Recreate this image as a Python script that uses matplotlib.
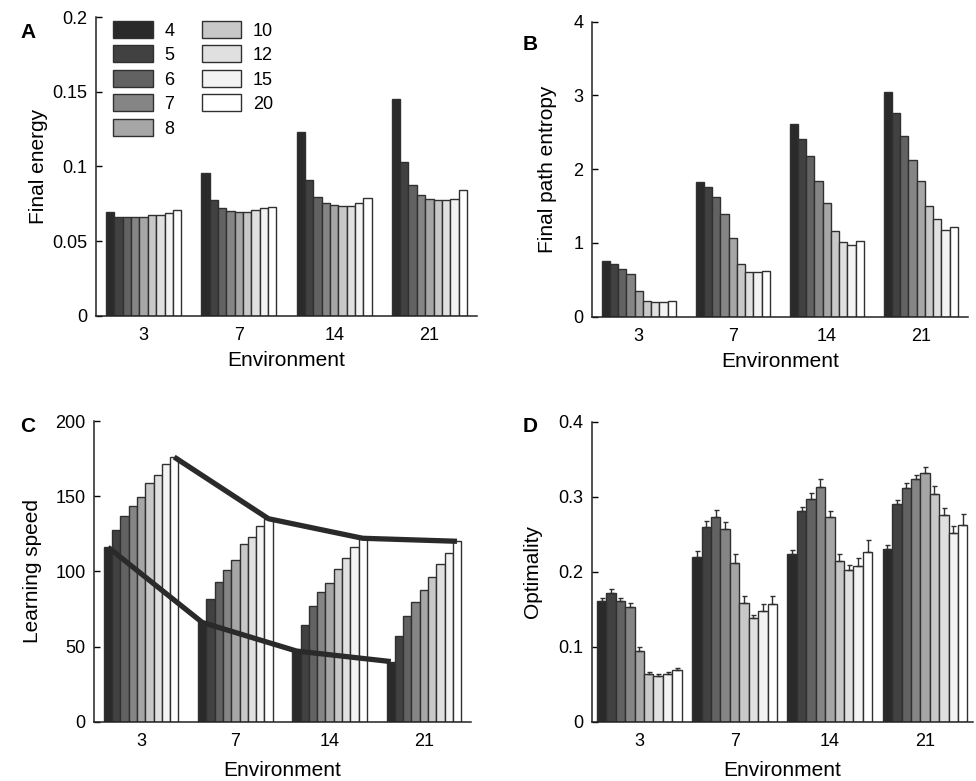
import numpy as np
import matplotlib
matplotlib.use("Agg")
import matplotlib.pyplot as plt

plt.rcParams['font.family'] = ['Liberation Sans', 'DejaVu Sans']
plt.rcParams['font.size'] = 13

environments = ['3', '7', '14', '21']
sizes = ['4', '5', '6', '7', '8', '10', '12', '15', '20']
greys = ['#2a2a2a', '#414141', '#626262', '#858585', '#a6a6a6',
         '#c8c8c8', '#e0e0e0', '#f3f3f3', '#ffffff']

# rows = environment, columns = size
final_energy = [
    [0.0695, 0.0662, 0.0662, 0.0662, 0.0662, 0.0673, 0.0678, 0.0691, 0.0707],
    [0.0956, 0.0773, 0.0722, 0.0704, 0.0698, 0.0698, 0.0709, 0.0720, 0.0731],
    [0.1233, 0.0909, 0.0796, 0.0756, 0.0744, 0.0738, 0.0738, 0.0756, 0.0789],
    [0.1453, 0.1029, 0.0873, 0.0809, 0.0784, 0.0773, 0.0773, 0.0784, 0.0842],
]
path_entropy = [
    [0.755, 0.710, 0.642, 0.579, 0.348, 0.217, 0.203, 0.203, 0.217],
    [1.821, 1.754, 1.623, 1.388, 1.071, 0.719, 0.606, 0.610, 0.624],
    [2.608, 2.409, 2.174, 1.844, 1.546, 1.157, 1.008, 0.972, 1.030],
    [3.051, 2.757, 2.450, 2.124, 1.844, 1.500, 1.324, 1.180, 1.211],
]
learning_speed = [
    [116, 127.5, 136.8, 143.7, 149.2, 159.0, 163.9, 171.4, 176],
    [66, 81.6, 92.7, 100.9, 107.3, 118.0, 123.1, 130.2, 135],
    [47, 64.1, 77.2, 86.0, 92.0, 101.6, 108.6, 116.2, 122],
    [40, 57.0, 70.5, 79.4, 87.6, 96.5, 104.7, 112.0, 120],
]
optimality = [
    [0.161, 0.172, 0.161, 0.153, 0.0947, 0.0631, 0.0609, 0.064, 0.0684],
    [0.219, 0.260, 0.273, 0.257, 0.2116, 0.1578, 0.1378, 0.147, 0.1564],
    [0.2236, 0.281, 0.297, 0.3124, 0.273, 0.2147, 0.2022, 0.208, 0.2267],
    [0.2302, 0.290, 0.312, 0.323, 0.332, 0.304, 0.276, 0.251, 0.2623],
]
optimality_err = [
    [0.0044, 0.0044, 0.0040, 0.0049, 0.0053, 0.0027, 0.0022, 0.0022, 0.0036],
    [0.0090, 0.0080, 0.0098, 0.0093, 0.0120, 0.0093, 0.0044, 0.0100, 0.0116],
    [0.0053, 0.0058, 0.0080, 0.0107, 0.0080, 0.0090, 0.0070, 0.0107, 0.0160],
    [0.0050, 0.0060, 0.0058, 0.0058, 0.0080, 0.0098, 0.0093, 0.0098, 0.0150],
]

fig = plt.figure(figsize=(9.76, 7.81), dpi=100)
edge = '#303030'


def bars(ax, data, group_w, err=None, xpad=5):
    data = np.array(data)
    n = data.shape[1]
    w = group_w / n
    x = np.arange(1, data.shape[0] + 1)
    xs = []
    for j in range(n):
        xj = x - group_w / 2 + w * (j + 0.5)
        xs.append(xj)
        ax.bar(xj, data[:, j], width=w, color=greys[j], edgecolor=edge,
               linewidth=1.0, label=sizes[j], zorder=2)
        if err is not None:
            e = np.array(err)[:, j]
            ax.errorbar(xj, data[:, j], yerr=[np.zeros_like(e), e], fmt='none',
                        ecolor=edge, elinewidth=1.0, capsize=1.8, capthick=1.0,
                        zorder=3)
    ax.set_xlim(0.5, 4.5)
    ax.set_xticks(x)
    ax.set_xticklabels(environments)
    ax.set_xlabel('Environment', fontsize=15, labelpad=xpad)
    for s in ['top', 'right']:
        ax.spines[s].set_visible(False)
    for s in ['left', 'bottom']:
        ax.spines[s].set_linewidth(1.1)
        ax.spines[s].set_color('#222222')
    ax.tick_params(axis='y', direction='in', length=4, width=1, pad=6)
    ax.tick_params(axis='x', length=0, pad=8)
    return np.array(xs)


# A
axA = fig.add_axes([96 / 976, 1 - 316 / 781, 381 / 976, 299 / 781])
bars(axA, final_energy, 0.79, xpad=5)
axA.set_ylim(0, 0.2)
axA.set_yticks([0, 0.05, 0.1, 0.15, 0.2])
axA.set_yticklabels(['0', '0.05', '0.1', '0.15', '0.2'])
axA.set_ylabel('Final energy', fontsize=15, labelpad=3)
axA.legend(ncol=2, loc='upper left', bbox_to_anchor=(0.0446, 0.9866),
           frameon=False, borderpad=0, borderaxespad=0,
           handlelength=2.2, handleheight=1.05, labelspacing=0.33,
           columnspacing=1.5, handletextpad=0.65, fontsize=13)

# B
axB = fig.add_axes([591.7 / 976, 1 - 316.7 / 781, 376 / 976, 295 / 781])
bars(axB, path_entropy, 0.79, xpad=5)
axB.set_ylim(0, 4)
axB.set_yticks([0, 1, 2, 3, 4])
axB.set_ylabel('Final path entropy', fontsize=15, labelpad=12)

# C
axC = fig.add_axes([94 / 976, 1 - 721.7 / 781, 377 / 976, 300.7 / 781])
xs = bars(axC, learning_speed, 0.79, xpad=8)
ls = np.array(learning_speed)
axC.plot(xs[0], ls[:, 0], color='#2a2a2a', lw=3.8, zorder=4,
         solid_capstyle='butt')
axC.plot(xs[-1], ls[:, -1], color='#2a2a2a', lw=3.8, zorder=4,
         solid_capstyle='butt')
axC.set_ylim(0, 200)
axC.set_yticks([0, 50, 100, 150, 200])
axC.set_ylabel('Learning speed', fontsize=15, labelpad=10)

# D
axD = fig.add_axes([591.7 / 976, 1 - 721.7 / 781, 381 / 976, 300 / 781])
bars(axD, optimality, 0.89, err=optimality_err, xpad=8)
axD.set_ylim(0, 0.4)
axD.set_yticks([0, 0.1, 0.2, 0.3, 0.4])
axD.set_yticklabels(['0', '0.1', '0.2', '0.3', '0.4'])
axD.set_ylabel('Optimality', fontsize=15, labelpad=12)

for lbl, (px, py) in zip('ABCD', [(28, 33), (530, 45), (28, 427), (530, 427)]):
    fig.text(px / 976, 1 - py / 781, lbl, fontsize=15, fontweight='bold',
             ha='center', va='center')

fig.savefig('out.png', dpi=100)
